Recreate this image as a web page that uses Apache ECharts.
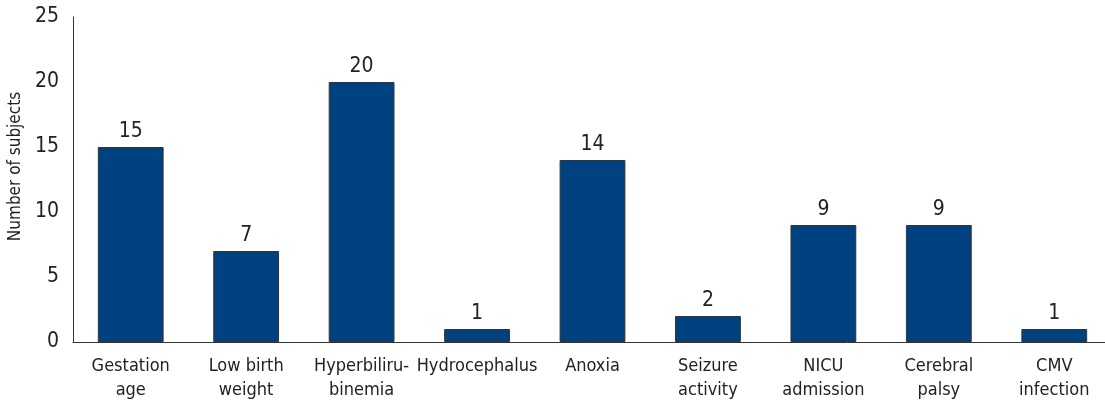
<!DOCTYPE html>
<html>
<head>
<meta charset="utf-8">
<script src="https://cdn.jsdelivr.net/npm/echarts@6/dist/echarts.min.js"></script>
<style>
  html, body { margin: 0; padding: 0; background: #fff; }
  #chart { width: 1105px; height: 404px; }
</style>
</head>
<body>
<div id="chart"></div>
<script>
  // categories and counts
  var categories = ['Gestation\nage', 'Low birth\nweight', 'Hyperbiliru-\nbinemia', 'Hydrocephalus',
    'Anoxia', 'Seizure\nactivity', 'NICU\nadmission', 'Cerebral\npalsy', 'CMV\ninfection']
  var counts = [15, 7, 20, 1, 14, 2, 9, 9, 1]
  var yTicks = { min: 0, max: 25, interval: 5 }

  var font = "'DejaVu Sans Condensed', 'Liberation Sans Narrow', sans-serif"

  var chart = echarts.init(document.getElementById('chart'))
  chart.setOption({
    animation: false,
    grid: { left: 73, right: -7, top: 17, bottom: 62, outerBoundsMode: 'none', containLabel: false },
    xAxis: {
      type: 'category',
      data: categories,
      axisLine: { lineStyle: { color: '#333', width: 1 } },
      axisTick: { show: false },
      axisLabel: {
        interval: 0,
        margin: 12,
        color: '#222',
        fontFamily: font,
        fontSize: 18,
        lineHeight: 24
      }
    },
    yAxis: {
      type: 'value',
      min: yTicks.min,
      max: yTicks.max,
      interval: yTicks.interval,
      name: 'Number of subjects',
      nameLocation: 'middle',
      nameGap: 48,
      nameTextStyle: { color: '#222', fontFamily: font, fontSize: 17, padding: [0, 0, 0, 26] },
      axisLine: { show: true, lineStyle: { color: '#333', width: 1 } },
      axisTick: { show: false },
      splitLine: { show: false },
      axisLabel: { margin: 14, color: '#222', fontFamily: font, fontSize: 21 }
    },
    series: [{
      type: 'bar',
      data: counts,
      barWidth: '57%',
      itemStyle: { color: '#00427f', borderColor: '#333', borderWidth: 1 },
      label: {
        show: true,
        position: 'top',
        distance: 5,
        color: '#222',
        fontFamily: font,
        fontSize: 21
      }
    }]
  })
</script>
</body>
</html>
